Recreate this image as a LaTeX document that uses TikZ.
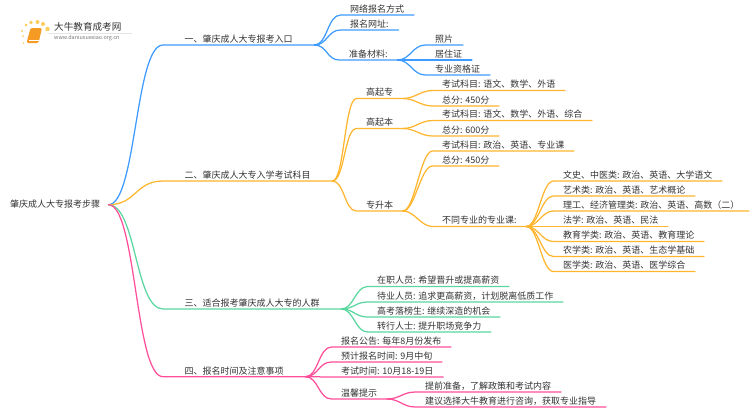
\documentclass[tikz,border=0pt]{standalone}
\usepackage{fontspec}
\setmainfont{Noto Sans CJK SC}
\definecolor{inkgrey}{HTML}{333333}
\definecolor{lineblue}{HTML}{3D9BFF}
\definecolor{lineorange}{HTML}{FFB52E}
\definecolor{linegreen}{HTML}{5AD6A0}
\definecolor{linepink}{HTML}{FF4F9A}
\definecolor{bookorange}{HTML}{F59A23}
\definecolor{sunyellow}{HTML}{FBCB5C}
\tikzset{
    item/.style={anchor=south west,inner xsep=9.5pt,inner ysep=1pt,text height=8pt,text depth=1.5pt,text=inkgrey,font=\fontsize{9}{9}\selectfont},
    topic/.style={item,inner xsep=21.5pt},
    link/.style={line width=1.25pt,line cap=round}
}
\begin{document}
\begin{tikzpicture}[x=1pt,y=-1pt]
    \useasboundingbox (0,0) rectangle (750,410);
    % logo
    \fill[bookorange,rounded corners=1.5pt] (30.5,28) -- (42,28) -- (38.5,43) -- (26.5,43) -- cycle;
    \draw[white,line width=0.6pt] (29,40) -- (39,40);
    \foreach \px/\py/\pr in {23.5/43/0.8,23/36/1,22/31/1.2,26/25/1.5,31/22.5/1.8,37.5/22/2,43/24/2,47.5/29/2.2}
        \fill[sunyellow] (\px,\py) circle (\pr);
    \draw[black!10,line width=0.4pt] (48,33) -- (132,33);
    \node[anchor=west,inner sep=0pt,text=inkgrey,font=\fontsize{9.6}{10}\selectfont] (brand) at (54,26.5) {大牛教育成考网};
    \node[anchor=west,inner sep=0pt,text=black!55,font=\fontsize{5.4}{6}\selectfont] (site) at (54,38.5) {www.daniuxuexiao.org.cn};
    % root and main topics
    \node[item,anchor=west,inner xsep=8pt] (root) at (2,204.7) {肇庆成人大专报考步骤};
    \node[topic] (top1) at (163,45) {一、肇庆成人大专报考入口};
    \node[topic] (top2) at (163,181) {二、肇庆成人大专入学考试科目};
    \node[topic] (top3) at (163,309) {三、适合报考肇庆成人大专的人群};
    \node[topic] (top4) at (163,376.7) {四、报名时间及注意事项};
    % topic one
    \node[item] (way) at (340.5,15) {网络报名方式};
    \node[item] (web) at (340.5,30) {报名网址:};
    \node[item] (docs) at (339.5,60) {准备材料:};
    \node[item] (photo) at (425.5,45) {照片};
    \node[item] (card) at (425.5,60) {居住证};
    \node[item] (cert) at (425.5,75) {专业资格证};
    % topic two
    \node[item] (gqz) at (356.5,98.5) {高起专};
    \node[item] (gqb) at (356.5,128.5) {高起本};
    \node[item] (zsb) at (356.5,211) {专升本};
    \node[item] (gqzsub) at (432.5,90.5) {考试科目: 语文、数学、外语};
    \node[item] (gqzsum) at (432.5,106) {总分: 450分};
    \node[item] (gqbsub) at (432.5,120.5) {考试科目: 语文、数学、外语、综合};
    \node[item] (gqbsum) at (432.5,136) {总分: 600分};
    \node[item] (zsbsub) at (432.5,151) {考试科目: 政治、英语、专业课};
    \node[item] (zsbsum) at (432.5,166) {总分: 450分};
    \node[item] (major) at (432.5,226.5) {不同专业的专业课:};
    \node[item] (wenshi) at (553.5,181) {文史、中医类: 政治、英语、大学语文};
    \node[item] (yishu) at (553.5,196) {艺术类: 政治、英语、艺术概论};
    \node[item] (ligong) at (553.5,211) {理工、经济管理类: 政治、英语、高数（二）};
    \node[item] (faxue) at (553.5,226.5) {法学: 政治、英语、民法};
    \node[item] (jiaoyu) at (553.5,241.5) {教育学类: 政治、英语、教育理论};
    \node[item] (nongxue) at (553.5,256.5) {农学类: 政治、英语、生态学基础};
    \node[item] (yixue) at (553.5,271.5) {医学类: 政治、英语、医学综合};
    % topic three
    \node[item] (staff) at (367.5,286.5) {在职人员: 希望晋升或提高薪资};
    \node[item] (idle) at (367.5,302) {待业人员: 追求更高薪资，计划脱离低质工作};
    \node[item] (exam) at (367.5,317) {高考落榜生: 继续深造的机会};
    \node[item] (change) at (367.5,332) {转行人士: 提升职场竞争力};
    % topic four
    \node[item] (notice) at (331.5,347) {报名公告: 每年8月份发布};
    \node[item] (signup) at (331.5,362) {预计报名时间: 9月中旬};
    \node[item] (date) at (331.5,377) {考试时间: 10月18-19日};
    \node[item] (tips) at (331.5,399) {温馨提示};
    \node[item] (prep) at (415.5,392) {提前准备，了解政策和考试内容};
    \node[item] (advice) at (415.5,407) {建议选择大牛教育进行咨询，获取专业指导};
    % connectors
    \foreach \a/\b/\c in {root/top1/lineblue,root/top2/lineorange,root/top3/linegreen,root/top4/linepink}
        \draw[link,\c] (\a.east) .. controls +(28,0) and +(-28,0) .. (\b.south west) -- (\b.south east);
    \foreach \a/\b in {top1/way,top1/web,top1/docs,docs/photo,docs/card,docs/cert}
        \draw[link,lineblue] (\a.south east) .. controls +(13,0) and +(-13,0) .. (\b.south west) -- (\b.south east);
    \foreach \a/\b in {top2/gqz,top2/gqb,top2/zsb,gqz/gqzsub,gqz/gqzsum,gqb/gqbsub,gqb/gqbsum,zsb/zsbsub,zsb/zsbsum,zsb/major,major/wenshi,major/yishu,major/ligong,major/faxue,major/jiaoyu,major/nongxue,major/yixue}
        \draw[link,lineorange] (\a.south east) .. controls +(12,0) and +(-12,0) .. (\b.south west) -- (\b.south east);
    \foreach \a/\b in {top3/staff,top3/idle,top3/exam,top3/change}
        \draw[link,linegreen] (\a.south east) .. controls +(12,0) and +(-12,0) .. (\b.south west) -- (\b.south east);
    \foreach \a/\b in {top4/notice,top4/signup,top4/date,top4/tips,tips/prep,tips/advice}
        \draw[link,linepink] (\a.south east) .. controls +(13,0) and +(-13,0) .. (\b.south west) -- (\b.south east);
\end{tikzpicture}
\end{document}
